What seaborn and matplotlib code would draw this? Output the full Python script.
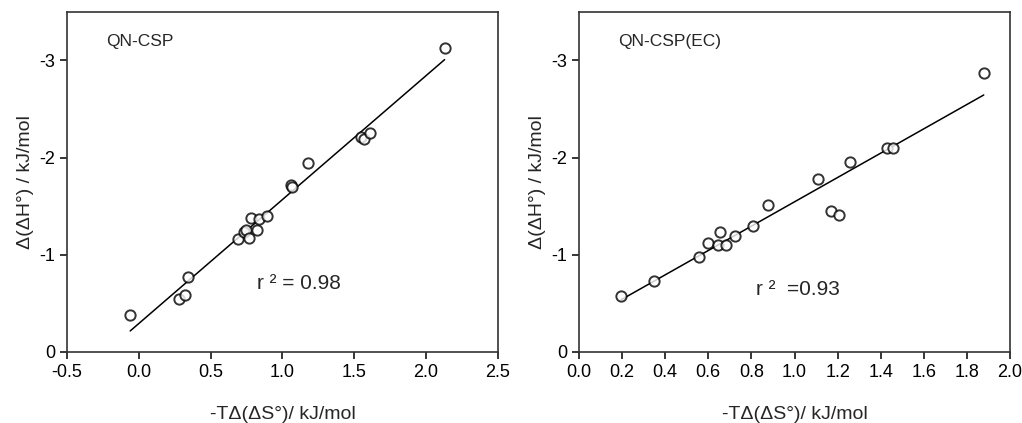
import matplotlib
matplotlib.use("Agg")
import matplotlib.pyplot as plt
import seaborn as sns
import pandas as pd

# QN-CSP data
x_qn = [-0.06, 0.28, 0.32, 0.34, 0.69, 0.73, 0.75, 0.77, 0.82, 0.78, 0.84, 0.89,
        1.06, 1.07, 1.18, 1.55, 1.57, 1.61, 2.13]
y_qn = [-0.375, -0.54, -0.585, -0.77, -1.16, -1.23, -1.26, -1.17, -1.26, -1.38,
        -1.37, -1.40, -1.72, -1.70, -1.94, -2.21, -2.19, -2.25, -3.13]

# QN-CSP(EC) data
x_ec = [0.196, 0.348, 0.556, 0.600, 0.645, 0.655, 0.683, 0.726, 0.808, 0.876,
        1.111, 1.170, 1.206, 1.257, 1.427, 1.456, 1.878]
y_ec = [-0.58, -0.735, -0.975, -1.12, -1.10, -1.23, -1.10, -1.19, -1.30, -1.51,
        -1.78, -1.455, -1.41, -1.95, -2.10, -2.10, -2.87]

xticks_qn = [-0.5, 0.0, 0.5, 1.0, 1.5, 2.0, 2.5]
xticks_ec = [0.0, 0.2, 0.4, 0.6, 0.8, 1.0, 1.2, 1.4, 1.6, 1.8, 2.0]
yticks = [0, -1, -2, -3]

sns.set_style("ticks")
plt.rcParams['font.family'] = ['Liberation Sans', 'DejaVu Sans']
plt.rcParams['axes.unicode_minus'] = False

fig = plt.figure(figsize=(10.22, 4.23), dpi=100)
ax1 = fig.add_axes([0.0656, 0.168, 0.4214, 0.804])
ax2 = fig.add_axes([0.5665, 0.168, 0.4218, 0.804])

panels = [
    (ax1, x_qn, y_qn, xticks_qn, (-0.5, 2.5), "QN-CSP", "r ² = 0.98", (0.44, 0.185)),
    (ax2, x_ec, y_ec, xticks_ec, (0.0, 2.0), "QN-CSP(EC)", "r ²  =0.93", (0.41, 0.168)),
]

for ax, xs, ys, xt, xl, name, rtxt, rpos in panels:
    df = pd.DataFrame({"x": xs, "y": ys})
    sns.regplot(data=df, x="x", y="y", ax=ax, ci=None, marker="o",
                scatter_kws=dict(facecolors="white", edgecolors="black", s=55,
                                 linewidths=1.4, zorder=3),
                line_kws=dict(color="black", lw=1.1))
    ax.set_xlim(*xl)
    ax.set_ylim(0, -3.5)
    ax.set_xticks(xt)
    ax.set_xticklabels([f"{v:.1f}" for v in xt])
    ax.set_yticks(yticks)
    ax.set_yticklabels([str(v) for v in yticks])
    ax.tick_params(direction="out", length=5, width=1.1, labelsize=13, colors="black")
    for sp in ax.spines.values():
        sp.set_visible(True)
        sp.set_linewidth(1.2)
        sp.set_color("#333333")
    ax.set_xlabel("-TΔ(ΔS°)/ kJ/mol", fontsize=14, labelpad=18)
    ax.set_ylabel("Δ(ΔH°) / kJ/mol", fontsize=14, labelpad=4)
    ax.text(0.09, 0.9, name, transform=ax.transAxes, fontsize=12.5)
    ax.text(rpos[0], rpos[1], rtxt, transform=ax.transAxes, fontsize=15)

fig.savefig("out.png", dpi=100)
